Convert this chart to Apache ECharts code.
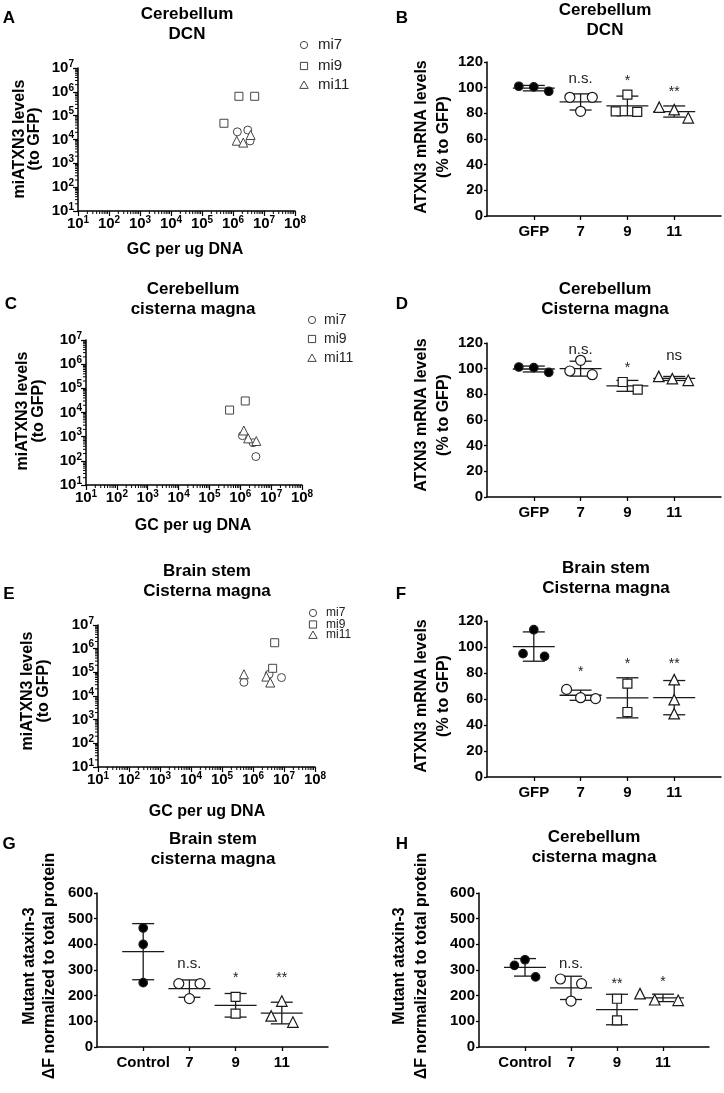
<!DOCTYPE html>
<html><head><meta charset="utf-8">
<script src="https://cdn.jsdelivr.net/npm/echarts@6/dist/echarts.min.js"></script>
<style>html,body{margin:0;padding:0;background:#fff}#c{width:724px;height:1093px}</style>
</head><body><div id="c"></div>
<script>
// ================= DATA =================
// Scatter panels: [GC per ug DNA, miATXN3 levels (to GFP)]
const A_mi7  = [[1.38e6, 2.1e4], [3.0e6, 2.5e4], [3.55e6, 8.7e3]];
const A_mi9  = [[1.55e6, 6.5e5], [5.0e6, 6.5e5], [5.1e5, 4.8e4]];
const A_mi11 = [[1.32e6, 8.9e3], [2.14e6, 7.4e3], [3.7e6, 1.55e4]];

const C_mi7  = [[1.17e6, 1.1e3], [2.6e6, 560], [3.2e6, 150]];
const C_mi9  = [[4.5e5, 1.26e4], [1.45e6, 3.0e4]];
const C_mi11 = [[1.3e6, 1.8e3], [1.8e6, 850], [3.3e6, 660]];

const E_mi7  = [[5.1e5, 3.8e4], [3.3e6, 8.3e4], [8.3e6, 6.0e4]];
const E_mi9  = [[5.0e6, 1.78e6], [4.3e6, 1.48e5]];
const E_mi11 = [[5.1e5, 8.3e4], [2.7e6, 6.6e4], [3.6e6, 3.7e4]];

const legendNames = ['mi7', 'mi9', 'mi11'];

// Category panels
const rnaCats  = ['GFP', '7', '9', '11'];
const protCats = ['Control', '7', '9', '11'];

const B_vals = [[101.1, 100.6, 97.2], [92.5, 92.5, 81.6], [94.6, 81.6, 81.1], [84.8, 82.9, 76.5]];
const B_sig  = ['', 'n.s.', '*', '**'];
const D_vals = [[101.3, 100.8, 97.1], [106.5, 98.2, 95.3], [89.6, 83.6], [94.0, 92.2, 90.9]];
const D_sig  = ['', 'n.s.', '*', 'ns'];
const F_vals = [[113.3, 94.9, 92.8], [67.4, 61.0, 60.3], [71.8, 50.0], [74.9, 59.5, 48.7]];
const F_sig  = ['', '*', '*', '**'];
const G_vals = [[463.6, 400, 250.6], [247, 247, 188.5], [195, 130], [179, 121, 97]];
const G_sig  = ['', 'n.s.', '*', '**'];
const H_vals = [[318, 340, 273], [265, 247, 179], [188, 104], [208, 184, 182]];
const H_sig  = ['', 'n.s.', '**', '*'];

// ================= LAYOUT =================
const FONT = "'Liberation Sans', Arial, Helvetica, sans-serif";
// horizontal spread of overlapping dots (category units)
const B_jit = [[-0.32, 0, 0.32], [-0.23, 0.25, 0], [0, -0.25, 0.21], [-0.32, 0, 0.3]];
const D_jit = [[-0.32, 0, 0.32], [0, -0.23, 0.25], [-0.1, 0.22], [-0.33, -0.04, 0.3]];
const F_jit = [[0, -0.23, 0.23], [-0.3, 0, 0.32], [0, 0], [0, 0, 0]];
const G_jit = [[0, 0, 0], [-0.23, 0.23, 0], [0, 0], [0, -0.23, 0.24]];
const H_jit = [[-0.23, 0, 0.23], [-0.23, 0.23, 0], [0, 0], [-0.5, -0.18, 0.33]];
// vertical anchor of the significance marks (axis units)
const B_sigY = [null, 107, 107.5, 99];
const D_sigY = [null, 115, 103, 109.6];
const F_sigY = [null, 83.3, 89, 89];
const G_sigY = [null, 325, 279, 279];
const H_sigY = [null, 325, 256, 266];

const grids = [], xAxes = [], yAxes = [], series = [], graphics = [];

const supRich = {
  b: {fontSize: 15, fontWeight: 'bold', fontFamily: FONT, color: '#000'},
  s: {fontSize: 10, fontWeight: 'bold', fontFamily: FONT, color: '#000', padding: [0, 0, 8, 0]}
};
const supFmt = v => '{b|10}{s|' + Math.round(Math.log10(v)) + '}';
const axisLineStyle = {color: '#000', width: 1.5};

function addLogPanel(g, sets) {
  const gi = grids.length;
  grids.push({left: g.left, top: g.top, width: g.width, height: g.height});
  xAxes.push({gridIndex: gi, type: 'log', logBase: 10, min: 10, max: 1e8, splitNumber: 7,
    axisLine: {lineStyle: axisLineStyle}, axisTick: {length: 5, lineStyle: {color: '#000', width: 1.2}},
    splitLine: {show: false}, axisLabel: {margin: 4, formatter: supFmt, rich: supRich}});
  yAxes.push({gridIndex: gi, type: 'log', logBase: 10, min: 10, max: 1e7, splitNumber: 6,
    axisLine: {show: true, lineStyle: axisLineStyle}, axisTick: {show: true, length: 5, lineStyle: {color: '#000', width: 1.2}},
    splitLine: {show: false}, axisLabel: {margin: 4, formatter: supFmt, rich: supRich}});
  const shapes = ['circle', 'rect', 'triangle'];
  sets.forEach((d, i) => series.push({type: 'scatter', xAxisIndex: gi, yAxisIndex: gi, name: legendNames[i],
    symbol: shapes[i], symbolSize: shapes[i] === 'triangle' ? 9 : 8, data: d, z: 5,
    itemStyle: {color: '#fff', borderColor: '#444', borderWidth: 1, opacity: 1}}));
  // log minor ticks (2..9 within each decade)
  const mx = [], my = [];
  for (let e = 1; e < 8; e++) for (let k = 2; k < 10; k++) mx.push([k * Math.pow(10, e), 10]);
  for (let e = 1; e < 7; e++) for (let k = 2; k < 10; k++) my.push([10, k * Math.pow(10, e)]);
  series.push({type: 'custom', xAxisIndex: gi, yAxisIndex: gi, data: mx, silent: true, clip: false, z: 1,
    renderItem: (p, api) => { const c = api.coord([api.value(0), api.value(1)]);
      return {type: 'line', shape: {x1: c[0], y1: c[1], x2: c[0], y2: c[1] + 3}, style: {stroke: '#000', lineWidth: 1}}; }});
  series.push({type: 'custom', xAxisIndex: gi, yAxisIndex: gi, data: my, silent: true, clip: false, z: 1,
    renderItem: (p, api) => { const c = api.coord([api.value(0), api.value(1)]);
      return {type: 'line', shape: {x1: c[0] - 3, y1: c[1], x2: c[0], y2: c[1]}, style: {stroke: '#000', lineWidth: 1}}; }});
  // legend
  const lg = g.legend;
  legendNames.forEach((n, i) => {
    const y = lg.y[i];
    let shape;
    if (i === 0) shape = {type: 'circle', shape: {cx: lg.x, cy: y, r: 3.6}};
    else if (i === 1) shape = {type: 'rect', shape: {x: lg.x - 3.6, y: y - 3.6, width: 7.2, height: 7.2}};
    else shape = {type: 'polygon', shape: {points: [[lg.x, y - 4], [lg.x - 4.2, y + 3.4], [lg.x + 4.2, y + 3.4]]}};
    shape.style = {fill: '#fff', stroke: '#444', lineWidth: 1};
    graphics.push(shape);
    graphics.push({type: 'text', x: lg.tx, y: y, style: {text: n, fontSize: lg.fs, fontFamily: FONT, fill: '#222',
      align: 'left', verticalAlign: 'middle', textAlign: 'left', textVerticalAlign: 'middle'}});
  });
}

const mean = a => a.reduce((s, v) => s + v, 0) / a.length;
const sd = a => { const m = mean(a); return Math.sqrt(a.reduce((s, v) => s + (v - m) * (v - m), 0) / (a.length - 1)); };

function addCatPanel(g, cats, vals, jit, sig, sigY, ymax, yint) {
  const gi = grids.length;
  grids.push({left: g.left, top: g.top, width: g.width, height: g.height});
  xAxes.push({gridIndex: gi, type: 'value', min: 0, max: 5, interval: 1,
    axisLine: {lineStyle: axisLineStyle}, splitLine: {show: false},
    axisTick: {show: true, customValues: [1, 2, 3, 4], length: 4, lineStyle: {color: '#000', width: 1.3}},
    axisLabel: {customValues: [1, 2, 3, 4], formatter: v => cats[Math.round(v) - 1] || '', margin: 8,
      fontSize: 15, fontWeight: 'bold', fontFamily: FONT, color: '#000'}});
  yAxes.push({gridIndex: gi, type: 'value', min: 0, max: ymax, interval: yint,
    axisLine: {show: true, lineStyle: axisLineStyle}, splitLine: {show: false},
    axisTick: {show: true, length: 3, lineStyle: {color: '#000', width: 1.3}},
    axisLabel: {margin: 4, fontSize: 15, fontWeight: 'bold', fontFamily: FONT, color: '#000'}});
  // mean +/- SD
  series.push({type: 'custom', xAxisIndex: gi, yAxisIndex: gi, silent: true, clip: false, z: 2,
    data: vals.map((v, i) => [i + 1, mean(v), sd(v)]),
    renderItem: (p, api) => {
      const x = api.value(0), m = api.value(1), s = api.value(2);
      const c = api.coord([x, m]), t = api.coord([x, m + s]), b = api.coord([x, m - s]);
      const st = {stroke: '#1a1a1a', lineWidth: 1.3};
      return {type: 'group', children: [
        {type: 'line', shape: {x1: c[0] - 21, y1: c[1], x2: c[0] + 21, y2: c[1]}, style: st},
        {type: 'line', shape: {x1: t[0], y1: t[1], x2: b[0], y2: b[1]}, style: st},
        {type: 'line', shape: {x1: t[0] - 11, y1: t[1], x2: t[0] + 11, y2: t[1]}, style: st},
        {type: 'line', shape: {x1: b[0] - 11, y1: b[1], x2: b[0] + 11, y2: b[1]}, style: st}
      ]};
    }});
  const sym = ['circle', 'circle', 'rect', 'triangle'];
  const size = [8.5, 10, 9, 10.5];
  vals.forEach((v, i) => series.push({type: 'scatter', xAxisIndex: gi, yAxisIndex: gi, symbol: sym[i], symbolSize: size[i],
    z: 5, data: v.map((y, j) => [i + 1 + jit[i][j], y]),
    itemStyle: {color: i === 0 ? '#000' : '#fff', borderColor: '#1a1a1a', borderWidth: 1.2, opacity: 1}}));
  // significance marks
  const sd_ = [];
  sig.forEach((s, i) => { if (s) sd_.push([i + 1, sigY[i], i]); });
  series.push({type: 'custom', xAxisIndex: gi, yAxisIndex: gi, silent: true, clip: false, z: 6, data: sd_,
    renderItem: (p, api) => {
      const c = api.coord([api.value(0), api.value(1)]);
      const txt = sig[api.value(2)];
      const star = txt.charAt(0) === '*';
      return {type: 'text', x: c[0], y: c[1] + (star ? 3 : 0), style: {text: txt, fontSize: star ? 14 : 15,
        fontFamily: FONT, fill: '#222', align: 'center', verticalAlign: 'middle'}};
    }});
}

function txt(x, y, text, opt) {
  opt = opt || {};
  graphics.push({type: 'text', x: x, y: y, rotation: opt.rot || 0,
    style: {text: text, fontSize: opt.size || 16, fontWeight: opt.weight || 'bold', fontFamily: FONT, fill: '#000',
      lineHeight: opt.lh || 20, align: opt.align || 'center', verticalAlign: 'middle',
      textAlign: opt.align || 'center', textVerticalAlign: 'middle'}});
}

// ---- panels ----
addLogPanel({left: 78, top: 68, width: 217, height: 143, legend: {x: 304, tx: 318, fs: 15, y: [45, 66, 85]}}, [A_mi7, A_mi9, A_mi11]);
addLogPanel({left: 86, top: 340, width: 216, height: 145, legend: {x: 312, tx: 324, fs: 14, y: [320, 339, 358]}}, [C_mi7, C_mi9, C_mi11]);
addLogPanel({left: 98, top: 625, width: 217, height: 142, legend: {x: 313, tx: 326, fs: 12, y: [613, 624.5, 635]}}, [E_mi7, E_mi9, E_mi11]);
addCatPanel({left: 487, top: 62, width: 234, height: 154}, rnaCats, B_vals, B_jit, B_sig, B_sigY, 120, 20);
addCatPanel({left: 487, top: 343, width: 234, height: 154}, rnaCats, D_vals, D_jit, D_sig, D_sigY, 120, 20);
addCatPanel({left: 487, top: 621, width: 234, height: 156}, rnaCats, F_vals, F_jit, F_sig, F_sigY, 120, 20);
addCatPanel({left: 97, top: 893, width: 231, height: 154}, protCats, G_vals, G_jit, G_sig, G_sigY, 600, 100);
addCatPanel({left: 479, top: 893, width: 230, height: 154}, protCats, H_vals, H_jit, H_sig, H_sigY, 600, 100);

// panel letters
[['A', 9, 18], ['B', 402, 18], ['C', 11, 304], ['D', 402, 304], ['E', 9, 594], ['F', 401, 594], ['G', 9, 844], ['H', 402, 844]]
  .forEach(l => txt(l[1], l[2], l[0], {size: 17}));
// titles
txt(187, 24, 'Cerebellum\nDCN', {size: 17});
txt(605, 20, 'Cerebellum\nDCN', {size: 17});
txt(193, 299, 'Cerebellum\ncisterna magna', {size: 17});
txt(605, 299, 'Cerebellum\nCisterna magna', {size: 17});
txt(207, 581, 'Brain stem\nCisterna magna', {size: 17});
txt(606, 578, 'Brain stem\nCisterna magna', {size: 17});
txt(213, 849, 'Brain stem\ncisterna magna', {size: 17});
txt(594, 847, 'Cerebellum\ncisterna magna', {size: 17});
// axis names
const R = Math.PI / 2;
txt(27, 139, 'miATXN3 levels\n(to GFP)', {rot: R, lh: 15});
txt(31, 411, 'miATXN3 levels\n(to GFP)', {rot: R, lh: 16});
txt(36, 691, 'miATXN3 levels\n(to GFP)', {rot: R, lh: 16});
txt(433, 137, 'ATXN3 mRNA levels\n(% to GFP)', {rot: R, lh: 22});
txt(433, 415, 'ATXN3 mRNA levels\n(% to GFP)', {rot: R, lh: 22});
txt(433, 696, 'ATXN3 mRNA levels\n(% to GFP)', {rot: R, lh: 22});
txt(40, 966, 'Mutant ataxin-3\n\u0394F normalized to total protein', {rot: R, lh: 20});
txt(411, 966, 'Mutant ataxin-3\n\u0394F normalized to total protein', {rot: R, lh: 22});
txt(185, 250, 'GC per ug DNA');
txt(193, 526, 'GC per ug DNA');
txt(207, 812, 'GC per ug DNA');

const chart = echarts.init(document.getElementById('c'));
chart.setOption({
  animation: false,
  textStyle: {fontFamily: FONT},
  grid: grids, xAxis: xAxes, yAxis: yAxes, series: series, graphic: graphics
});
</script>
</body></html>
